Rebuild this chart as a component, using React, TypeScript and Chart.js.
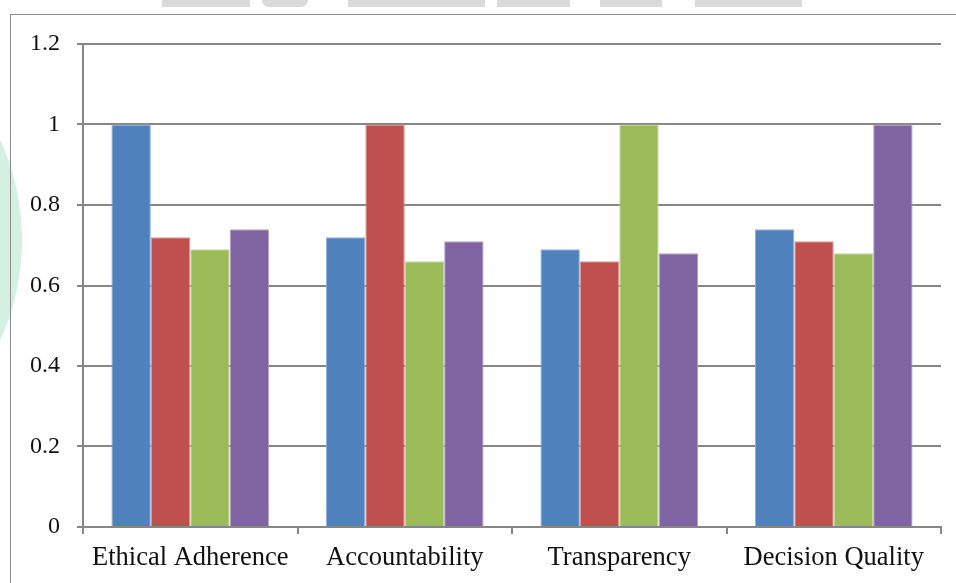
import React, { useEffect, useRef } from "react";
import { Chart, registerables } from "chart.js";

Chart.register(...registerables);

const categories = ["Ethical Adherence", "Accountability", "Transparency", "Decision Quality"];
const series1 = [1, 0.72, 0.69, 0.74];
const series2 = [0.72, 1, 0.66, 0.71];
const series3 = [0.69, 0.66, 1, 0.68];
const series4 = [0.74, 0.71, 0.68, 1];
const seriesNames = ["Series 1", "Series 2", "Series 3", "Series 4"];
const seriesColors = ["#4F81BD", "#C0504D", "#9BBB59", "#8064A2"];
const seriesBorders = ["#8fb0d8", "#d99492", "#c2d69b", "#b2a1c7"];
const yTicks = [0, 0.2, 0.4, 0.6, 0.8, 1, 1.2];

const FONT = "'Liberation Serif', 'Times New Roman', serif";

export default function App() {
  const ref = useRef<HTMLCanvasElement | null>(null);

  useEffect(() => {
    if (!ref.current) return;
    const all = [series1, series2, series3, series4];
    const chart = new Chart(ref.current, {
      type: "bar",
      data: {
        labels: categories,
        datasets: all.map((d, i) => ({
          label: seriesNames[i],
          data: d,
          backgroundColor: seriesColors[i],
          borderColor: seriesBorders[i],
          borderWidth: 1,
          categoryPercentage: 0.735,
          barPercentage: 1,
        })),
      },
      options: {
        animation: false,
        responsive: false,
        maintainAspectRatio: false,
        layout: { padding: { left: 0, right: 15, top: 44, bottom: 0 } },
        plugins: { legend: { display: false }, tooltip: { enabled: false } },
        scales: {
          x: {
            grid: {
              display: true,
              drawOnChartArea: false,
              drawTicks: true,
              tickLength: 7,
              color: "#868686",
              lineWidth: 2,
              offset: true,
            },
            border: { display: true, color: "#868686", width: 2 },
            ticks: {
              color: "#111",
              font: { family: FONT, size: 26.5 },
              padding: 8,
              maxRotation: 0,
              autoSkip: false,
            },
            afterFit: (scale: any) => {
              scale.height = 56;
            },
          },
          y: {
            min: 0,
            max: 1.2,
            afterBuildTicks: (scale: any) => {
              scale.ticks = yTicks.map((v) => ({ value: v }));
            },
            grid: {
              color: "#868686",
              lineWidth: 2,
              tickLength: 6,
              drawTicks: true,
            },
            border: { display: true, color: "#868686", width: 2 },
            ticks: {
              color: "#111",
              font: { family: FONT, size: 24 },
              padding: 17,
              callback: (v: any) => String(Math.round(Number(v) * 10) / 10),
            },
            afterFit: (scale: any) => {
              scale.width = 83;
            },
          },
        },
      },
    });
    return () => chart.destroy();
  }, []);

  const wm = [
    [162, 88],
    [262, 46],
    [348, 137],
    [497, 73],
    [600, 62],
    [695, 107],
  ];

  return (
    <div style={{ position: "fixed", left: 0, top: 0, width: 956, height: 583, background: "#fff", overflow: "hidden" }}>
      <div
        style={{
          position: "absolute",
          left: -340,
          top: 30,
          width: 362,
          height: 420,
          borderRadius: "50%",
          background: "radial-gradient(ellipse at center, #d3f0e0 70%, rgba(230,247,237,0) 100%)",
        }}
      />
      {wm.map(([x, w], i) => (
        <div
          key={i}
          style={{
            position: "absolute",
            left: x,
            top: 0,
            width: w,
            height: 7,
            background: "#dadada",
            borderRadius: i === 1 ? "0 0 23px 23px" : 0,
          }}
        />
      ))}
      <div
        style={{
          position: "absolute",
          left: 10,
          top: 14,
          right: -10,
          bottom: -10,
          borderLeft: "1.5px solid #8c8c8c",
          borderTop: "1.5px solid #8c8c8c",
        }}
      />
      <canvas ref={ref} width={956} height={583} style={{ position: "absolute", left: 0, top: 0, width: 956, height: 583 }} />
    </div>
  );
}
